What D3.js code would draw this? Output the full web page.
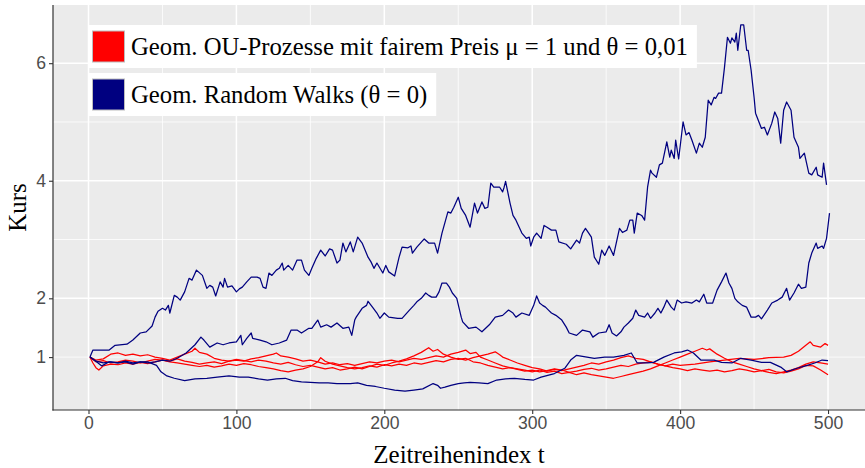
<!DOCTYPE html>
<html>
<head>
<meta charset="utf-8">
<script src="https://cdn.jsdelivr.net/npm/d3@7"></script>
<style>
  html, body { margin: 0; padding: 0; background: #fff; }
  svg { display: block; }
</style>
</head>
<body>
<div id="chart"></div>
<script>
// Series as [t, Kurs] pairs
const ouPath1 = [[1,1.00],[5,0.95],[10,0.97],[15,1.05],[20,1.07],[25,1.03],[30,1.05],[35,1.02],[40,1.04],[45,1.00],[50,0.98],[55,0.95],[60,1.00],[65,1.05],[70,1.10],[72,1.15],[75,1.08],[80,1.05],[85,0.98],[90,0.95],[95,0.93],[100,0.96],[105,0.94],[110,0.92],[115,0.95],[120,0.93],[125,0.90],[130,0.88],[135,0.91],[140,0.87],[145,0.84],[150,0.86],[155,0.83],[160,0.80],[165,0.82],[170,0.78],[175,0.80],[180,0.83],[185,0.80],[190,0.84],[195,0.88],[200,0.86],[205,0.90],[210,0.93],[215,0.97],[220,1.02],[225,1.08],[230,1.16],[233,1.10],[236,1.13],[240,1.05],[245,1.00],[250,0.96],[255,0.98],[260,0.92],[265,0.90],[270,0.86],[275,0.83],[280,0.80],[285,0.82],[290,0.79],[295,0.76],[300,0.78],[305,0.75],[310,0.77],[315,0.80],[320,0.78],[325,0.74],[330,0.76],[335,0.79],[340,0.81],[345,0.78],[350,0.80],[355,0.83],[360,0.86],[365,0.84],[370,0.88],[375,0.90],[380,0.92],[385,0.88],[390,0.85],[395,0.88],[400,0.86],[410,0.88],[420,0.92],[430,0.95],[440,0.98],[450,0.96],[460,0.99],[470,1.00],[475,1.03],[480,1.10],[485,1.20],[488,1.26],[490,1.20],[495,1.17],[498,1.23],[500,1.20]];
const ouPath2 = [[1,1.00],[3,0.90],[5,0.82],[7,0.78],[10,0.85],[15,0.88],[20,0.87],[25,0.90],[30,0.88],[35,0.91],[40,0.89],[45,0.92],[50,0.95],[55,0.93],[60,0.97],[65,0.93],[70,0.91],[75,0.88],[80,0.90],[85,0.92],[90,0.89],[95,0.93],[100,0.95],[105,0.93],[110,0.97],[115,0.99],[120,1.02],[125,1.05],[127,1.07],[130,1.02],[135,1.00],[140,0.97],[145,0.93],[150,0.95],[155,0.92],[160,0.88],[165,0.90],[170,0.87],[175,0.89],[180,0.86],[185,0.89],[190,0.92],[195,0.90],[200,0.93],[205,0.95],[210,0.92],[215,0.95],[220,0.98],[225,0.96],[230,0.99],[235,1.02],[240,1.00],[245,1.05],[250,1.08],[255,1.12],[258,1.06],[262,1.08],[265,1.00],[270,0.95],[275,0.90],[280,0.85],[285,0.82],[290,0.80],[295,0.78],[300,0.75],[305,0.78],[310,0.74],[315,0.76],[320,0.72],[325,0.74],[330,0.70],[335,0.73],[340,0.70],[345,0.68],[350,0.66],[355,0.64],[360,0.67],[365,0.70],[370,0.73],[375,0.76],[380,0.80],[385,0.85],[390,0.90],[395,0.95],[400,1.00],[405,1.05],[410,1.10],[415,1.15],[418,1.12],[420,1.14],[425,1.05],[430,0.98],[435,0.92],[440,0.88],[445,0.84],[450,0.80],[455,0.77],[460,0.79],[465,0.75],[470,0.73],[475,0.76],[480,0.80],[485,0.86],[490,0.85],[495,0.78],[500,0.70]];
const ouPath3 = [[1,1.00],[5,0.92],[10,0.94],[15,0.90],[20,0.92],[25,0.95],[30,0.93],[35,0.90],[40,0.93],[45,0.96],[50,0.95],[55,0.92],[60,0.90],[65,0.88],[70,0.86],[75,0.84],[80,0.86],[85,0.83],[90,0.85],[95,0.88],[100,0.86],[105,0.89],[110,0.87],[115,0.84],[120,0.82],[125,0.80],[130,0.77],[135,0.75],[140,0.78],[145,0.80],[150,0.84],[155,0.92],[157,0.99],[160,0.93],[165,0.88],[170,0.85],[175,0.82],[180,0.80],[185,0.82],[190,0.85],[195,0.83],[200,0.87],[205,0.85],[210,0.88],[215,0.86],[220,0.90],[225,0.88],[230,0.91],[235,0.94],[240,0.92],[245,0.96],[250,0.98],[255,0.95],[260,0.99],[265,1.02],[270,1.05],[275,1.09],[278,1.04],[280,1.00],[285,0.95],[290,0.90],[295,0.86],[300,0.82],[305,0.80],[310,0.76],[315,0.79],[320,0.77],[325,0.80],[330,0.83],[335,0.86],[340,0.90],[345,0.88],[350,0.92],[355,0.95],[360,0.99],[365,1.02],[370,0.98],[375,0.96],[380,0.92],[385,0.88],[390,0.85],[395,0.82],[400,0.80],[405,0.77],[410,0.80],[415,0.78],[420,0.76],[425,0.78],[430,0.75],[435,0.77],[440,0.80],[445,0.78],[450,0.75],[455,0.77],[460,0.74],[465,0.72],[470,0.75],[475,0.78],[480,0.82],[485,0.88],[490,0.92],[495,0.90],[500,0.88]];

const walkPath1 = [[1,1.00],[3,1.12],[10,1.12],[14,1.12],[18,1.20],[26,1.22],[30,1.29],[35,1.41],[39,1.43],[43,1.53],[45,1.68],[47,1.78],[50,1.83],[52,1.80],[54,1.88],[55,1.75],[58,2.05],[60,2.02],[62,1.97],[65,2.11],[68,2.34],[70,2.31],[73,2.48],[77,2.39],[80,2.17],[82,2.22],[84,2.19],[86,2.04],[89,2.28],[91,2.19],[92,2.34],[94,2.19],[97,2.21],[100,2.11],[102,2.16],[104,2.19],[107,2.28],[110,2.36],[114,2.36],[116,2.34],[118,2.19],[120,2.17],[122,2.43],[124,2.39],[127,2.48],[129,2.51],[131,2.60],[132,2.48],[135,2.56],[138,2.48],[141,2.65],[144,2.65],[146,2.48],[149,2.39],[151,2.51],[154,2.68],[157,2.82],[160,2.72],[163,2.84],[165,2.82],[168,2.60],[170,2.65],[172,2.94],[174,2.79],[177,2.96],[179,2.79],[182,3.04],[185,2.94],[189,2.70],[191,2.62],[193,2.51],[195,2.60],[199,2.43],[201,2.56],[203,2.45],[207,2.38],[210,2.70],[212,2.87],[216,2.86],[218,2.89],[219,2.77],[222,2.87],[227,3.01],[230,2.94],[234,2.94],[236,2.77],[239,3.11],[243,3.47],[245,3.45],[247,3.55],[250,3.72],[252,3.53],[255,3.41],[258,3.21],[261,3.62],[263,3.45],[266,3.64],[268,3.53],[270,3.55],[272,3.96],[274,3.89],[278,3.89],[280,3.81],[281,3.89],[282,3.99],[285,3.62],[287,3.41],[289,3.33],[293,3.11],[296,3.02],[298,3.04],[299,2.89],[301,3.04],[303,3.11],[306,3.02],[308,3.24],[310,3.21],[313,3.16],[316,3.16],[318,2.96],[323,2.92],[326,2.84],[330,2.99],[332,2.94],[334,3.11],[336,3.19],[339,3.08],[340,3.04],[342,2.70],[345,2.58],[347,2.82],[349,2.73],[352,2.89],[355,2.73],[359,3.19],[361,3.12],[364,3.16],[366,3.33],[368,3.33],[369,3.11],[371,3.45],[374,3.41],[376,3.33],[378,3.89],[380,4.18],[381,4.13],[384,4.06],[386,4.27],[388,4.30],[391,4.66],[393,4.40],[394,4.52],[396,4.38],[397,4.69],[399,4.37],[402,5.00],[404,4.78],[406,4.82],[408,4.69],[411,4.47],[413,4.64],[415,4.57],[417,4.74],[419,5.37],[421,5.29],[423,5.42],[424,5.40],[426,5.49],[428,5.49],[430,5.93],[432,6.44],[434,6.34],[435,6.43],[437,6.36],[438,6.51],[439,6.22],[441,6.65],[443,6.65],[445,6.22],[446,6.22],[448,5.88],[450,5.42],[451,5.15],[455,4.89],[457,4.91],[459,4.78],[462,4.98],[464,5.17],[466,5.06],[468,4.64],[470,5.20],[472,5.34],[475,5.20],[477,4.74],[480,4.57],[481,4.38],[484,4.47],[487,4.13],[489,4.10],[492,4.23],[493,4.10],[496,4.06],[497,4.30],[499,3.93]];
const walkPath2 = [[1,1.00],[5,0.93],[10,0.90],[15,0.92],[20,0.90],[25,0.92],[30,0.88],[35,0.92],[40,0.90],[45,0.92],[50,0.95],[55,0.93],[60,0.98],[66,1.07],[72,1.21],[76,1.34],[78,1.29],[82,1.17],[87,1.24],[91,1.21],[95,1.24],[100,1.26],[103,1.37],[104,1.21],[107,1.32],[110,1.41],[111,1.32],[116,1.29],[120,1.26],[124,1.21],[129,1.24],[134,1.29],[137,1.46],[141,1.46],[144,1.41],[149,1.49],[151,1.49],[155,1.63],[157,1.51],[161,1.55],[164,1.51],[168,1.58],[172,1.49],[176,1.51],[178,1.37],[180,1.63],[181,1.68],[185,1.83],[188,1.88],[189,1.95],[192,1.85],[195,1.75],[197,1.66],[200,1.75],[203,1.68],[209,1.66],[212,1.66],[217,1.80],[220,1.88],[222,1.94],[225,2.00],[228,2.09],[230,2.05],[232,2.02],[235,2.02],[237,2.11],[239,2.26],[242,2.26],[244,2.19],[246,2.09],[249,2.00],[252,1.68],[253,1.60],[257,1.49],[262,1.51],[266,1.43],[271,1.55],[275,1.68],[280,1.71],[284,1.80],[287,1.75],[289,1.68],[293,1.75],[298,1.71],[301,1.88],[303,2.04],[305,1.92],[307,1.88],[309,1.85],[311,1.80],[313,1.75],[316,1.71],[320,1.63],[323,1.51],[325,1.41],[330,1.37],[334,1.46],[339,1.43],[341,1.34],[345,1.41],[350,1.43],[352,1.55],[354,1.41],[357,1.36],[360,1.43],[362,1.51],[365,1.58],[368,1.66],[370,1.80],[372,1.71],[376,1.68],[378,1.75],[380,1.66],[383,1.75],[385,1.83],[387,1.75],[389,1.85],[391,1.97],[394,1.85],[396,1.80],[398,1.97],[401,1.92],[404,1.94],[408,1.92],[411,1.97],[413,1.94],[416,2.07],[418,1.92],[422,1.92],[425,2.14],[428,2.28],[431,2.43],[433,2.26],[435,2.17],[437,2.00],[439,1.94],[442,1.88],[445,1.85],[448,1.68],[451,1.68],[453,1.71],[455,1.65],[459,1.80],[462,1.92],[466,1.97],[469,2.02],[472,2.17],[474,1.97],[477,2.09],[480,2.24],[482,2.17],[485,2.19],[487,2.60],[489,2.77],[492,2.94],[493,2.85],[496,2.89],[497,2.85],[499,3.02],[501,3.45]];
const walkPath3 = [[1,1.00],[5,0.93],[9,0.85],[14,0.92],[20,0.90],[25,0.93],[30,0.90],[35,0.92],[40,0.92],[46,0.86],[49,0.75],[53,0.68],[58,0.64],[65,0.60],[72,0.63],[80,0.64],[87,0.66],[95,0.68],[102,0.66],[108,0.66],[115,0.63],[121,0.61],[127,0.63],[133,0.64],[138,0.60],[144,0.58],[150,0.57],[156,0.56],[162,0.56],[168,0.55],[177,0.55],[182,0.56],[188,0.52],[194,0.50],[200,0.47],[207,0.44],[214,0.42],[220,0.44],[226,0.46],[233,0.55],[236,0.52],[238,0.47],[241,0.49],[245,0.52],[250,0.55],[254,0.56],[258,0.57],[264,0.56],[270,0.55],[276,0.61],[282,0.63],[288,0.64],[295,0.62],[301,0.61],[306,0.66],[315,0.72],[322,0.81],[326,0.95],[330,1.03],[337,1.00],[342,0.98],[349,1.00],[355,1.00],[362,1.03],[367,1.07],[371,0.90],[378,0.90],[382,0.91],[389,1.00],[396,1.07],[401,1.09],[405,1.12],[409,1.07],[414,0.95],[423,0.95],[428,0.91],[435,0.90],[441,0.98],[448,0.95],[455,0.91],[461,0.91],[468,0.83],[472,0.75],[479,0.81],[486,0.86],[491,0.90],[496,0.95],[500,0.94]];

const ouSeries = [ouPath1, ouPath2, ouPath3];
const walkSeries = [walkPath1, walkPath2, walkPath3];

const xTicks = [0, 100, 200, 300, 400, 500];
const xMinor = [50, 150, 250, 350, 450];
const yTicks = [1, 2, 4, 6];
const yMajorGrid = [2, 4, 6];
const yMinorGrid = [1, 3, 5];

const legendLabels = ['Geom. OU-Prozesse mit fairem Preis \u03bc = 1 und \u03b8 = 0,01', 'Geom. Random Walks (\u03b8 = 0)'];
const legendColors = ['#ff0000', '#000080'];

const W = 865, H = 468;
const panel = { left: 53, right: 865, top: 5, bottom: 410 };

const svg = d3.select('#chart').append('svg').attr('width', W).attr('height', H);

const x = d3.scaleLinear().domain([-24, 525]).range([panel.left, panel.right]);
const y = d3.scaleLinear().domain([0.1, 6.99]).range([panel.bottom, panel.top]);

// panel background
svg.append('rect')
  .attr('x', panel.left).attr('y', panel.top)
  .attr('width', panel.right - panel.left).attr('height', panel.bottom - panel.top)
  .attr('fill', '#ebebeb');

const grid = svg.append('g');
grid.selectAll('line.ymin').data(yMinorGrid).join('line')
  .attr('x1', panel.left).attr('x2', panel.right)
  .attr('y1', d => y(d)).attr('y2', d => y(d))
  .attr('stroke', '#fff').attr('stroke-width', 0.8);
grid.selectAll('line.xmin').data(xMinor).join('line')
  .attr('y1', panel.top).attr('y2', panel.bottom)
  .attr('x1', d => x(d)).attr('x2', d => x(d))
  .attr('stroke', '#fff').attr('stroke-width', 0.8);
grid.selectAll('line.ymaj').data(yMajorGrid).join('line')
  .attr('x1', panel.left).attr('x2', panel.right)
  .attr('y1', d => y(d)).attr('y2', d => y(d))
  .attr('stroke', '#fff').attr('stroke-width', 1.5);
grid.selectAll('line.xmaj').data(xTicks).join('line')
  .attr('y1', panel.top).attr('y2', panel.bottom)
  .attr('x1', d => x(d)).attr('x2', d => x(d))
  .attr('stroke', '#fff').attr('stroke-width', 1.5);

// lines
const line = d3.line().x(d => x(d[0])).y(d => y(d[1]));
const lines = svg.append('g').attr('fill', 'none').attr('stroke-width', 1.25).attr('stroke-linejoin', 'round');
lines.selectAll('path.ou').data(ouSeries).join('path')
  .attr('d', line).attr('stroke', legendColors[0]);
lines.selectAll('path.walk').data(walkSeries).join('path')
  .attr('d', line).attr('stroke', legendColors[1]);

// axes
const tickFont = '"Liberation Sans", Arial, sans-serif';
const yAxis = svg.append('g')
  .attr('transform', `translate(${panel.left},0)`)
  .call(d3.axisLeft(y).tickValues(yTicks).tickSize(4).tickPadding(3).tickFormat(d3.format('d')));
const xAxis = svg.append('g')
  .attr('transform', `translate(0,${panel.bottom})`)
  .call(d3.axisBottom(x).tickValues(xTicks).tickSize(4).tickPadding(3).tickFormat(d3.format('d')));
[xAxis, yAxis].forEach(a => {
  a.select('.domain').remove();
  a.selectAll('.tick line').attr('stroke', '#333').attr('stroke-width', 1.1);
  a.selectAll('.tick text').attr('fill', '#4d4d4d').style('font-family', tickFont).style('font-size', '17.6px');
});
svg.append('line')
  .attr('x1', panel.left).attr('x2', panel.left).attr('y1', panel.top).attr('y2', panel.bottom + 0.6)
  .attr('stroke', '#333').attr('stroke-width', 1.2);
svg.append('line')
  .attr('x1', panel.left - 0.6).attr('x2', panel.right).attr('y1', panel.bottom).attr('y2', panel.bottom)
  .attr('stroke', '#333').attr('stroke-width', 1.2);

// axis titles
const serif = '"Liberation Serif", "Times New Roman", serif';
svg.append('text')
  .attr('x', (panel.left + panel.right) / 2).attr('y', 463)
  .attr('text-anchor', 'middle')
  .style('font-family', serif).style('font-size', '25px')
  .text('Zeitreihenindex t');
svg.append('text')
  .attr('transform', `translate(26,${(panel.top + panel.bottom) / 2}) rotate(-90)`)
  .attr('text-anchor', 'middle')
  .style('font-family', serif).style('font-size', '25px')
  .text('Kurs');

// legend, one white box per entry
const legend = svg.append('g');
legendLabels.forEach((label, i) => {
  const top = 25 + i * 48;
  const item = legend.append('g');
  const bg = item.append('rect').attr('fill', '#fff');
  item.append('rect')
    .attr('x', 92.5).attr('y', top + 6).attr('width', 32).attr('height', 31)
    .attr('fill', legendColors[i]).attr('stroke', '#bdbdbd').attr('stroke-width', 1);
  const txt = item.append('text')
    .attr('x', 131).attr('y', top + 30)
    .style('font-family', serif).style('font-size', '24.7px')
    .text(label);
  const w = txt.node().getComputedTextLength();
  bg.attr('x', 88).attr('y', top).attr('width', 131 + w + 9 - 88).attr('height', 43);
});
</script>
</body>
</html>
